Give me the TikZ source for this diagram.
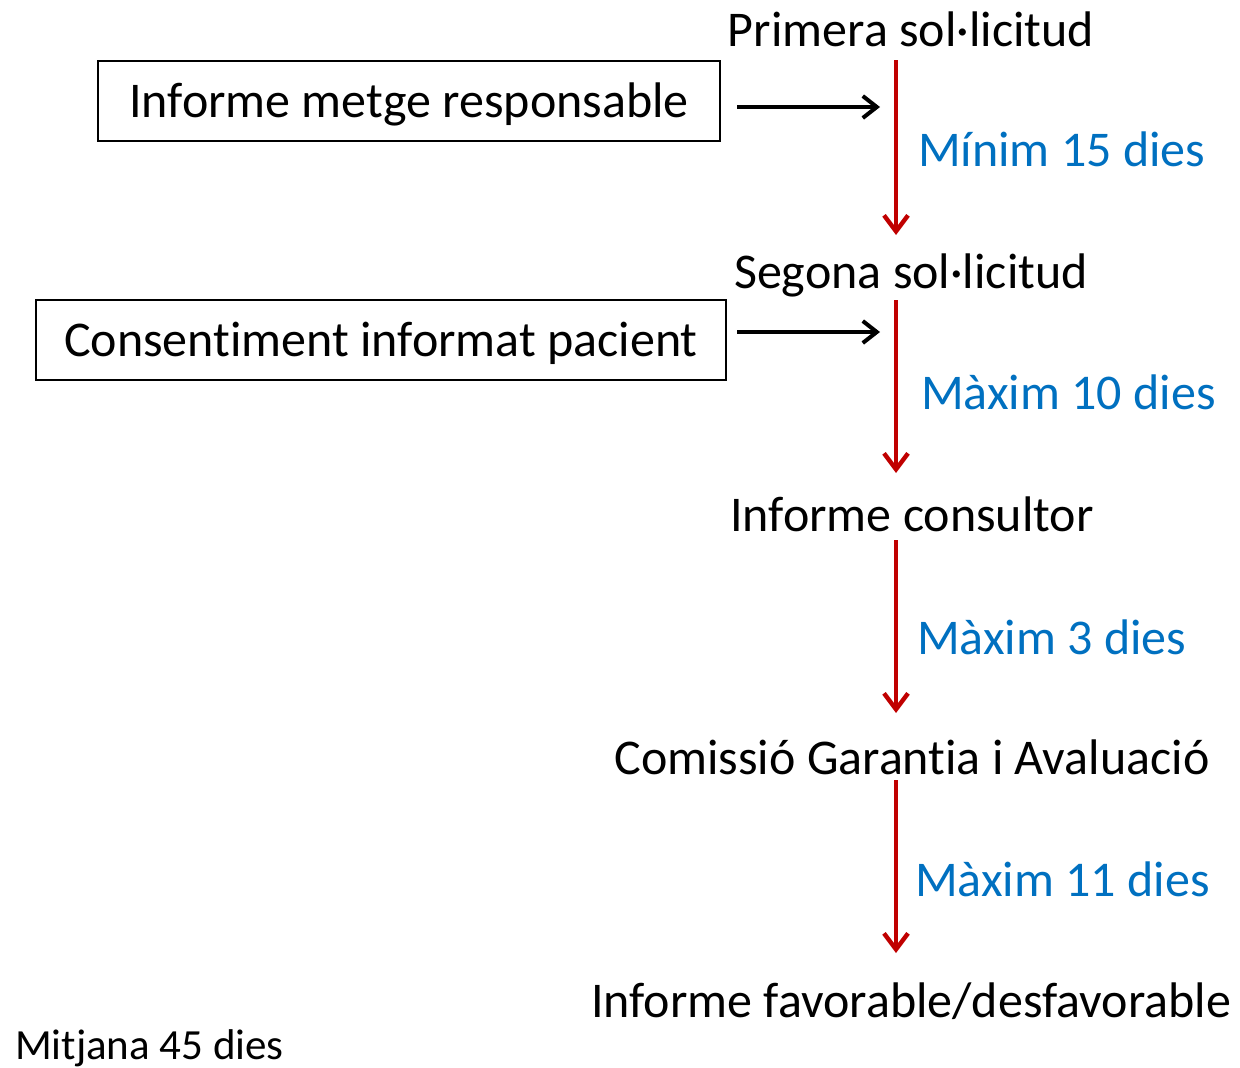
\documentclass[tikz,border=0pt]{standalone}
\usepackage{fontspec}
\setmainfont{Carlito}[Ligatures=NoCommon]
\usetikzlibrary{arrows.meta}
\definecolor{rd}{HTML}{C00000}
\definecolor{bl}{HTML}{0070C0}
\begin{document}
\begin{tikzpicture}[x=0.5pt,y=-0.5pt,
  every node/.style={inner sep=0pt,outer sep=0pt,font=\fontsize{25}{30}\selectfont},
  step label/.style={anchor=base},
  dur/.style={anchor=base west,text=bl},
  boxed/.style={draw,line width=0.9pt,minimum height=40pt,inner xsep=14pt,text height=21pt,text depth=5pt},
  redarr/.style={draw=rd,line width=2.1pt,-{Straight Barb[length=8pt,width=12pt,line width=2.2pt]}},
  blkarr/.style={draw=black,line width=2pt,-{Straight Barb[length=7pt,width=11pt,line width=2pt]}}]
\useasboundingbox (0,0) rectangle (1240,1067);
\node[step label] (p1) at (911,46) {Primera sol·licitud};
\node[step label] (p2) at (911,288) {Segona sol·licitud};
\node[step label] (p3) at (912,531) {Informe consultor};
\node[step label] (p4) at (912,774) {Comissió Garantia i Avaluació};
\node[step label] (p5) at (911,1017) {Informe favorable/desfavorable};
\node[boxed,inner xsep=15.5pt] (b1) at (409,101) {Informe metge responsable};
\node[boxed] (b2) at (381,340) {Consentiment informat pacient};
\node[dur] (d1) at (918,166) {Mínim 15 dies};
\node[dur] (d2) at (921,409) {Màxim 10 dies};
\node[dur] (d3) at (917,654) {Màxim 3 dies};
\node[dur] (d4) at (915,896) {Màxim 11 dies};
\node[anchor=base west,font=\fontsize{21.5}{25}\selectfont] (m) at (15,1059) {Mitjana 45 dies};
\coordinate (r1s) at (896,60);  \coordinate (r1e) at (896,235);
\coordinate (r2s) at (896,300); \coordinate (r2e) at (896,473);
\coordinate (r3s) at (896,540); \coordinate (r3e) at (896,713);
\coordinate (r4s) at (896,780); \coordinate (r4e) at (896,953);
\coordinate (a1s) at (737,107); \coordinate (a1e) at (880,107);
\coordinate (a2s) at (737,332); \coordinate (a2e) at (880,332);
\draw[redarr] (r1s) -- (r1e);
\draw[redarr] (r2s) -- (r2e);
\draw[redarr] (r3s) -- (r3e);
\draw[redarr] (r4s) -- (r4e);
\draw[blkarr] (a1s) -- (a1e);
\draw[blkarr] (a2s) -- (a2e);
\end{tikzpicture}
\end{document}
